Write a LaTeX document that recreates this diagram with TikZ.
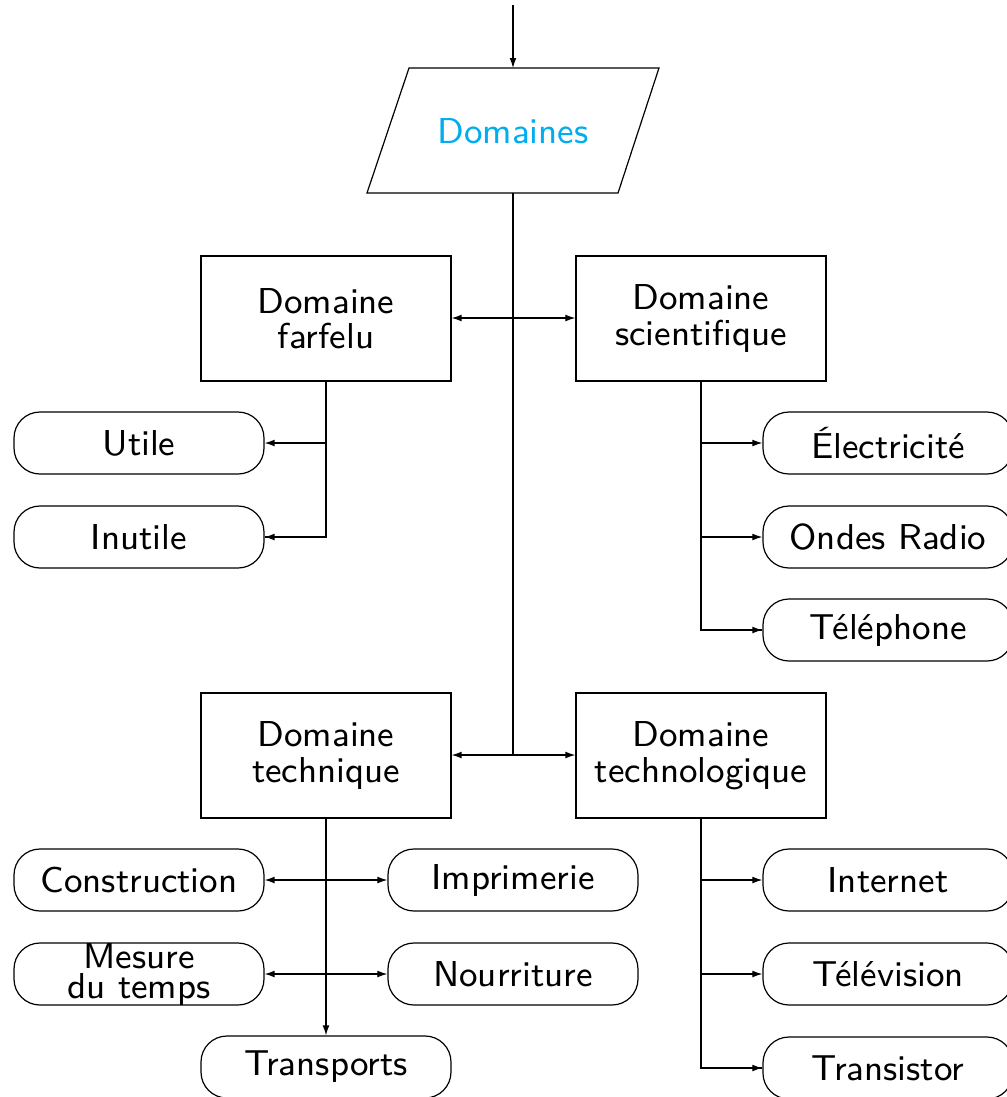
\documentclass[tikz,border=0pt]{standalone}
\usetikzlibrary{arrows.meta}
\definecolor{domcyan}{RGB}{0,174,239}
\tikzset{
  every node/.style={font=\sffamily\fontsize{9}{8.9}\selectfont, align=center, inner sep=0pt},
  conn/.style={line width=0.3pt, draw=black},
  arr/.style={conn, -{Latex[length=2.5pt,width=1.7pt]}},
  darr/.style={conn, {Latex[length=2.5pt,width=1.7pt]}-{Latex[length=2.5pt,width=1.7pt]}},
  bigbox/.style={draw, line width=0.3pt, minimum width=62.5pt, minimum height=31.25pt},
  roundbox/.style={draw, line width=0.3pt, minimum width=62.5pt, minimum height=15.5pt, rounded corners=6.5pt},
}
\begin{document}
\begin{tikzpicture}[x=0.25pt, y=-0.25pt]
\useasboundingbox (0,0) rectangle (1007,1097);
% input parallelogram
\coordinate (start) at (513,5);
\coordinate (ptop) at (513,68);
\coordinate (pbot) at (513,193);
\draw[line width=0.3pt] (409,68) -- (659,68) -- (618,193) -- (367,193) -- cycle;
\node[text=domcyan] (dom) at (513,131) {Domaines};
\draw[arr] (start) -- (ptop);
% level 1
\node[bigbox] (farf) at (326,318.5) {Domaine\\farfelu};
\node[bigbox] (scie) at (701,318.5) {Domaine\\scientifique};
\node[bigbox] (tech) at (326,755.5) {Domaine\\technique};
\node[bigbox] (techno) at (701,755.5) {Domaine\\technologique};
\coordinate (spine) at (513,755);
\draw[conn] (pbot) -- (spine);
\draw[darr] (farf.east |- 0,318) -- (scie.west |- 0,318);
\draw[darr] (tech.east |- spine) -- (techno.west |- spine);
% farfelu children
\node[roundbox] (utile) at (139,443) {Utile};
\node[roundbox] (inutile) at (139,537) {Inutile};
\draw[conn] (farf.south) |- (inutile.east);
\draw[arr] (farf.south |- utile.east) -- (utile.east);
\draw[arr] (farf.south |- inutile.east) -- (inutile.east);
% scientifique children
\node[roundbox] (elec) at (888,443) {Électricité};
\node[roundbox] (ondes) at (888,537) {Ondes Radio};
\node[roundbox] (tel) at (888,630) {Téléphone};
\draw[conn] (scie.south) |- (tel.west);
\draw[arr] (scie.south |- elec.west) -- (elec.west);
\draw[arr] (scie.south |- ondes.west) -- (ondes.west);
\draw[arr] (scie.south |- tel.west) -- (tel.west);
% technique children
\node[roundbox] (constr) at (139,880) {Construction};
\node[roundbox] (impr) at (513,880) {Imprimerie};
\node[roundbox] (mesure) at (139,974) {Mesure\\[-1.4pt]du temps};
\node[roundbox] (nourr) at (513,974) {Nourriture};
\node[roundbox] (transp) at (326,1067) {Transports};
\draw[arr] (tech.south) -- (transp.north);
\draw[darr] (constr.east) -- (impr.west);
\draw[darr] (mesure.east) -- (nourr.west);
% technologique children
\node[roundbox] (internet) at (888,880) {Internet};
\node[roundbox] (tele) at (888,974) {Télévision};
\node[roundbox] (trans) at (888,1068) {Transistor};
\draw[conn] (techno.south) |- (trans.west);
\draw[arr] (techno.south |- internet.west) -- (internet.west);
\draw[arr] (techno.south |- tele.west) -- (tele.west);
\draw[arr] (techno.south |- trans.west) -- (trans.west);
\end{tikzpicture}
\end{document}
